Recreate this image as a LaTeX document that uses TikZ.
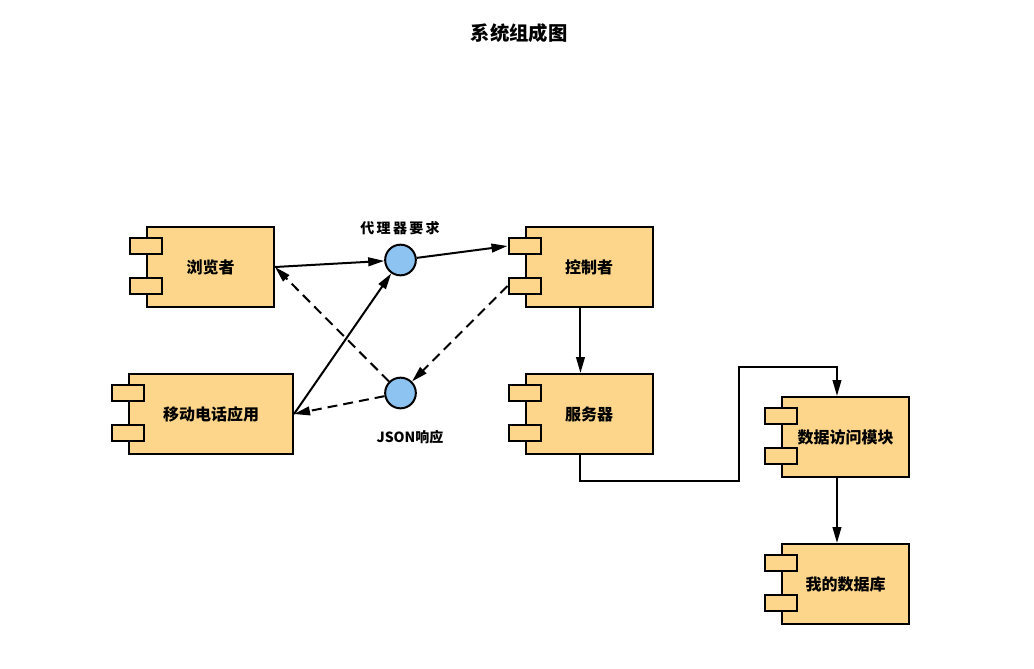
\documentclass[tikz,border=0pt]{standalone}
\usepackage{fontspec}
\newfontfamily\cjk{Noto Sans CJK SC}
\usetikzlibrary{arrows.meta,calc}
\definecolor{compfill}{HTML}{FDD68B}
\definecolor{portfill}{HTML}{8DC3F1}
\tikzset{
  comp/.style={draw, line width=1.5pt, fill=compfill, minimum height=60pt, inner sep=0pt, font=\cjk\bfseries\fontsize{12}{14}\selectfont},
  tabbox/.style={draw, line width=1.5pt, fill=compfill, minimum width=24pt, minimum height=12pt, inner sep=0pt},
  port/.style={draw, line width=1.5pt, fill=portfill, circle, minimum size=23pt, inner sep=0pt},
  lbl/.style={font=\cjk\bfseries\fontsize{10.5}{12}\selectfont},
  link/.style={line width=1.5pt, -{Triangle[length=12pt,width=6.5pt]}},
  back/.style={link, dash pattern=on 7.5pt off 4.5pt}
}
\newcommand\component[4]{%
  \node[comp, minimum width=#3] (#1) at (#2) {#4};
  \node[tabbox] (#1-a) at ($(#1.north west)+(0,20)$) {};
  \node[tabbox] (#1-b) at ($(#1.north west)+(0,60)$) {};
}

\begin{document}
\begin{tikzpicture}[x=0.75pt, y=-0.75pt]
		%%%%% START %%%%%
		\useasboundingbox (0,0) rectangle (1034,668);
		
		\node[font=\cjk\bfseries\fontsize{14.5}{16}\selectfont] (title) at (519,33) {系统组成图};
		
		\component{brow}{210.5,267}{95.25pt}{浏览者}
		\component{mob}{211,414}{123pt}{移动电话应用}
		\component{ctrl}{589,267}{95.25pt}{控制者}
		\component{serv}{589,414}{95.25pt}{服务器}
		\component{dao}{845.5,437}{95.25pt}{数据访问模块}
		\component{db}{845.5,584}{95.25pt}{我的数据库}
		
		\node[port] (req) at (400.5,260) {};
		\node[port] (resp) at (400.5,393) {};
		\node[lbl] (reqlbl) at (400,228) {代\,理\,器\,要\,求};
		\node[lbl] (resplbl) at (410,437) {JSON响应};
		
		\draw[link] (brow.east) -- (req);
		\draw[link] (mob.east) -- (req);
		\draw[link] (req) -- (ctrl-a.west);
		
		\draw[back] (resp) -- (brow.east);
		\draw[back] (resp) -- (mob.east);
		\draw[back] (ctrl-b.west) -- (resp);
		
		\draw[link] ([xshift=-6.4pt]ctrl.south) -- ([xshift=-6.4pt]serv.north);
		\coordinate (bend) at (739,367);
		\draw[link] ([xshift=-6.4pt]serv.south) -- ++(0,26) -| (bend) -| ([xshift=-6.4pt]dao.north);
		\draw[link] ([xshift=-6.4pt]dao.south) -- ([xshift=-6.4pt]db.north);
		
		%%%%% END %%%%%
\end{tikzpicture}
\end{document}
